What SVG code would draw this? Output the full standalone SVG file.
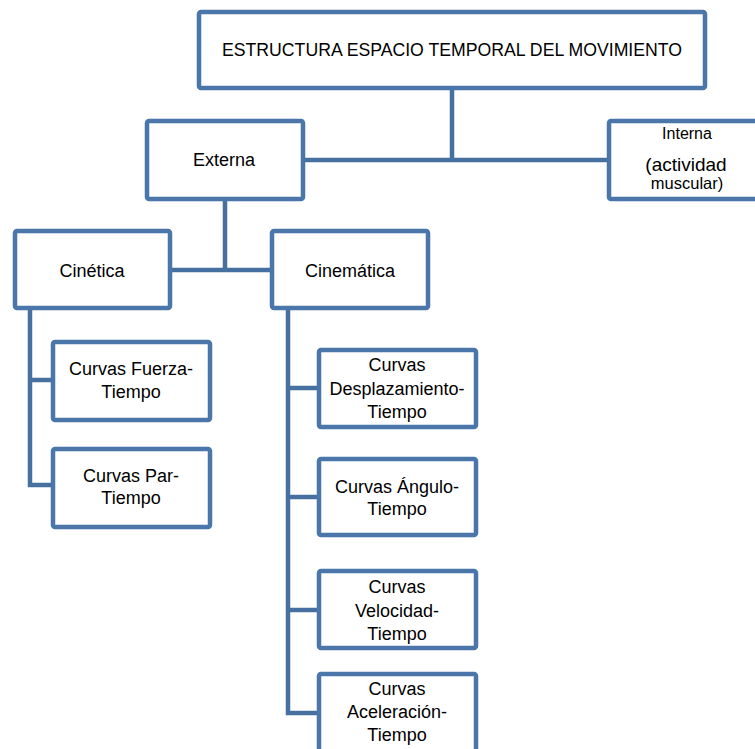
<svg xmlns="http://www.w3.org/2000/svg" width="755" height="749" viewBox="0 0 755 749">
<style>
.box{fill:#fff;stroke:#4a76aa;stroke-width:4.5}
.con{fill:none;stroke:#46709f;stroke-width:4.5;stroke-linecap:square}
text{font-family:"Liberation Sans",Arial,sans-serif;font-size:18px;fill:#000;text-anchor:middle}
</style>
<rect width="755" height="749" fill="#fff"/>
<g id="connectors">
<path class="con" d="M452,90V160M305,160H609"/>
<path class="con" d="M225,201V270M172,270H270"/>
<path class="con" d="M30,310V485M30,380H52M30,485H52"/>
<path class="con" d="M288,310V713M288,388H317M288,497H317M288,610H317M288,713H317"/>
</g>
<g id="n-root"><rect class="box" x="199" y="12" width="506" height="76" rx="2"/><text x="452" y="56" textLength="460" lengthAdjust="spacingAndGlyphs">ESTRUCTURA ESPACIO TEMPORAL DEL MOVIMIENTO</text></g>
<g id="n-externa"><rect class="box" x="147" y="121" width="156" height="78" rx="2"/><text x="224" y="166">Externa</text></g>
<g id="n-interna"><rect class="box" x="609" y="121" width="160" height="78" rx="2"/><text x="687" y="139" style="font-size:16px">Interna</text><text x="686" y="171" style="font-size:19px">(actividad</text><text x="687" y="189" style="font-size:16.5px">muscular)</text></g>
<g id="n-cinetica"><rect class="box" x="15" y="231" width="155" height="77" rx="2"/><text x="92" y="277">Cinética</text></g>
<g id="n-cinematica"><rect class="box" x="272" y="231" width="156" height="77" rx="2"/><text x="350" y="277">Cinemática</text></g>
<g id="n-fuerza"><rect class="box" x="53" y="342" width="157" height="78" rx="2"/><text x="131" y="375">Curvas Fuerza-</text><text x="131" y="398">Tiempo</text></g>
<g id="n-par"><rect class="box" x="53" y="449" width="157" height="78" rx="2"/><text x="131" y="482">Curvas Par-</text><text x="131" y="504">Tiempo</text></g>
<g id="n-desp"><rect class="box" x="319" y="350" width="157" height="77" rx="2"/><text x="397" y="371">Curvas</text><text x="397" y="395">Desplazamiento-</text><text x="397" y="418">Tiempo</text></g>
<g id="n-angulo"><rect class="box" x="319" y="459" width="157" height="76" rx="2"/><text x="397" y="493">Curvas Ángulo-</text><text x="397" y="515">Tiempo</text></g>
<g id="n-vel"><rect class="box" x="319" y="571" width="157" height="77" rx="2"/><text x="397" y="593">Curvas</text><text x="397" y="617">Velocidad-</text><text x="397" y="640">Tiempo</text></g>
<g id="n-acel"><rect class="box" x="319" y="674" width="157" height="90" rx="2"/><text x="397" y="695">Curvas</text><text x="397" y="718">Aceleración-</text><text x="397" y="741">Tiempo</text></g>
</svg>
